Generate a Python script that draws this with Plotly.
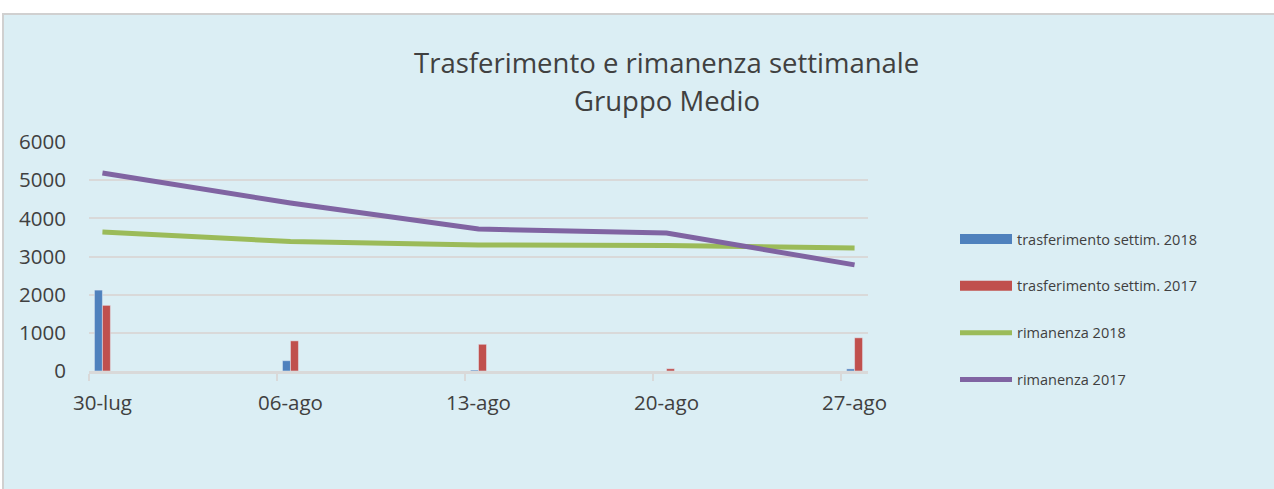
import plotly.graph_objects as go
from datetime import datetime, timedelta

dates = ["2018-07-30", "2018-08-06", "2018-08-13", "2018-08-20", "2018-08-27"]
date_labels = ["30-lug", "06-ago", "13-ago", "20-ago", "27-ago"]
trasf_2018 = [2120, 270, 25, 0, 55]
trasf_2017 = [1720, 790, 700, 60, 870]
riman_2018 = [3640, 3390, 3300, 3290, 3220]
riman_2017 = [5190, 4400, 3720, 3615, 2780]
y_ticks = [0, 1000, 2000, 3000, 4000, 5000, 6000]

names = ["trasferimento settim. 2018", "trasferimento settim. 2017", "rimanenza 2018", "rimanenza 2017"]
colors = ["#4F81BD", "#C0504D", "#9BBB59", "#8064A2"]

W, H = 1274, 489
L, R, T, B = 89, 868, 142, 371  # plot area edges in page px

def px_x(p):
    return (p - L) / (R - L)

def px_y(p):
    return (B - p) / (B - T)

dt = [datetime.fromisoformat(d) for d in dates]
half = timedelta(hours=12)
bounds = [(d - half).isoformat() for d in dt]
x_range = [(dt[0] - half).isoformat(), (dt[-1] + half).isoformat()]

fig = go.Figure()
fig.add_trace(go.Bar(x=dates, y=trasf_2018, marker_color=colors[0], name=names[0], showlegend=False))
fig.add_trace(go.Bar(x=dates, y=trasf_2017, marker_color=colors[1], name=names[1], showlegend=False))
fig.add_trace(go.Scatter(x=dates, y=riman_2018, mode="lines", line=dict(color=colors[2], width=5), name=names[2], showlegend=False))
fig.add_trace(go.Scatter(x=dates, y=riman_2017, mode="lines", line=dict(color=colors[3], width=5), name=names[3], showlegend=False))

# legend entries
for i, (n, c) in enumerate(zip(names, colors)):
    fig.add_trace(go.Scatter(x=[None], y=[None], mode="lines", name=n,
                             line=dict(color=c, width=10 if i < 2 else 5),
                             legendgroup=f"g{i}"))

font_fam = "Open Sans, Lato, sans-serif"
txt_col = "#404040"

fig.update_layout(
    width=W, height=H,
    margin=dict(l=L, r=W - R, t=T, b=H - B, pad=0),
    paper_bgcolor="white",
    plot_bgcolor="rgba(0,0,0,0)",
    barmode="group",
    bargap=0.915,
    bargroupgap=0,
    font=dict(family=font_fam, color=txt_col),
    showlegend=True,
    legend=dict(
        x=px_x(955), y=px_y(223), xanchor="left", yanchor="top",
        bgcolor="rgba(0,0,0,0)", font=dict(size=14.5, color=txt_col, family=font_fam),
        tracegroupgap=25, itemwidth=52,
    ),
    shapes=[
        dict(type="rect", xref="paper", yref="paper",
             x0=px_x(3), x1=px_x(1300), y0=px_y(510), y1=px_y(14),
             fillcolor="#DBEEF4", line=dict(color="#D0D0D0", width=2), layer="below"),
    ],
    annotations=[
        dict(text="Trasferimento e rimanenza settimanale", xref="paper", yref="paper",
             x=px_x(666), y=px_y(62), xanchor="center", yanchor="middle", showarrow=False,
             font=dict(size=27.5, color=txt_col, family=font_fam)),
        dict(text="Gruppo Medio", xref="paper", yref="paper",
             x=px_x(667), y=px_y(101), xanchor="center", yanchor="middle", showarrow=False,
             font=dict(size=27.5, color=txt_col, family=font_fam)),
    ],
)

fig.update_xaxes(
    type="date", range=x_range,
    tickmode="array", tickvals=dates, ticktext=date_labels,
    ticks="", tickfont=dict(size=20.5, color=txt_col),
    ticklabelstandoff=12,
    showgrid=False, zeroline=False,
    showline=True, linecolor="#D9D9D9", linewidth=2.5,
    minor=dict(tickmode="array", tickvals=bounds, ticks="outside", ticklen=7,
               tickcolor="#D9D9D9", tickwidth=2, showgrid=False),
)
fig.update_yaxes(
    range=[0, 6000], tickvals=y_ticks,
    tickfont=dict(size=20.5, color=txt_col),
    showgrid=True, gridcolor="#D9D9D9", gridwidth=2,
    zeroline=False, ticks="", ticklabelstandoff=22,
    showline=False,
)

fig.write_html("out.html",
               config={"displayModeBar": False},
               post_script="document.body.style.margin='0';document.body.style.overflow='hidden';")
